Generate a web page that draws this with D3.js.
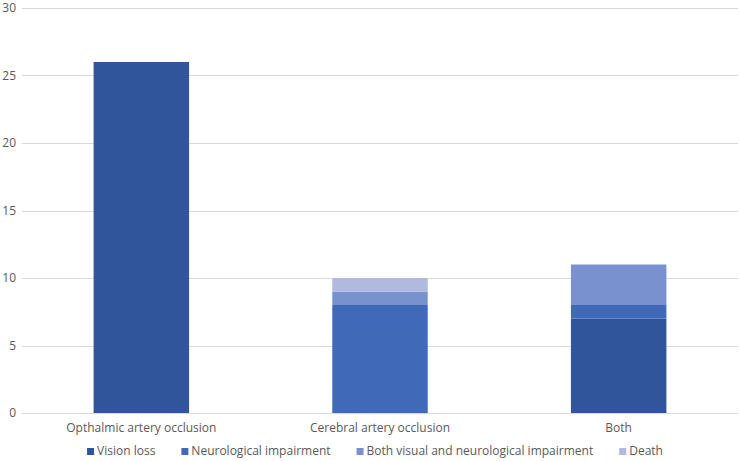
<!DOCTYPE html>
<html>
<head>
<meta charset="utf-8">
<script src="https://cdn.jsdelivr.net/npm/d3@7"></script>
<style>
  body { margin: 0; background: #fff; }
  text { font-family: "Open Sans", "Liberation Sans", sans-serif; }
</style>
</head>
<body>
<div id="chart"></div>
<script>
const categories = ["Opthalmic artery occlusion", "Cerebral artery occlusion", "Both"]
const seriesNames = ["Vision loss", "Neurological impairment", "Both visual and neurological impairment", "Death"]
const visionLoss = [26, 0, 7]
const neuroImpairment = [0, 8, 1]
const bothImpairment = [0, 1, 3]
const death = [0, 1, 0]
const yTicks = [0, 5, 10, 15, 20, 25, 30]

const colors = ["#31559a", "#4069b8", "#7a91cf", "#b0b9de"]

const width = 740, height = 461
const margin = {top: 8, right: 2, bottom: 48, left: 22}

const svg = d3.select("#chart").append("svg")
    .attr("width", width)
    .attr("height", height)

const x = d3.scaleBand()
    .domain(categories)
    .range([margin.left, width - margin.right])
    .paddingInner(0.6)
    .paddingOuter(0.3)

const y = d3.scaleLinear()
    .domain([0, 30])
    .range([height - margin.bottom, margin.top])

// gridlines
svg.append("g").selectAll("line")
    .data(yTicks)
    .enter().append("line")
    .attr("x1", margin.left)
    .attr("x2", width - margin.right)
    .attr("y1", d => Math.round(y(d)) + 0.5)
    .attr("y2", d => Math.round(y(d)) + 0.5)
    .attr("stroke", "#d9d9d9")
    .attr("stroke-width", 1)

svg.append("g").selectAll("text")
    .data(yTicks)
    .enter().append("text")
    .attr("x", 16)
    .attr("y", d => y(d) + 4)
    .attr("text-anchor", "end")
    .style("font-size", "12px")
    .style("fill", "#595959")
    .text(d => d)

const table = categories.map((c, i) => ({
    cat: c,
    s0: visionLoss[i],
    s1: neuroImpairment[i],
    s2: bothImpairment[i],
    s3: death[i]
}))
const stack = d3.stack().keys(["s0", "s1", "s2", "s3"])(table)

svg.append("g").selectAll("g")
    .data(stack)
    .enter().append("g")
    .attr("fill", (d, i) => colors[i])
    .selectAll("rect")
    .data(d => d)
    .enter().append("rect")
    .attr("x", d => x(d.data.cat))
    .attr("width", x.bandwidth())
    .attr("y", d => y(d[1]))
    .attr("height", d => y(d[0]) - y(d[1]))

// category labels
svg.append("g").selectAll("text")
    .data(categories)
    .enter().append("text")
    .attr("x", d => x(d) + x.bandwidth() / 2)
    .attr("y", height - margin.bottom + 19)
    .attr("text-anchor", "middle")
    .style("font-size", "12px")
    .style("fill", "#595959")
    .text(d => d)

// legend, roughly centred under plot
const legend = svg.append("g")
let lx = 0
seriesNames.forEach((name, i) => {
    const item = legend.append("g").attr("transform", "translate(" + lx + ",0)")
    item.append("rect")
        .attr("x", 0)
        .attr("y", -7)
        .attr("width", 7)
        .attr("height", 7)
        .attr("fill", colors[i])
    const t = item.append("text")
        .attr("x", 10)
        .attr("y", 0)
        .style("font-size", "12px")
        .style("fill", "#595959")
        .text(name)
    lx += 10 + t.node().getComputedTextLength() + 26
})
const legendWidth = lx - 26
legend.attr("transform", "translate(" + (375 - legendWidth / 2) + "," + 455 + ")")
</script>
</body>
</html>
